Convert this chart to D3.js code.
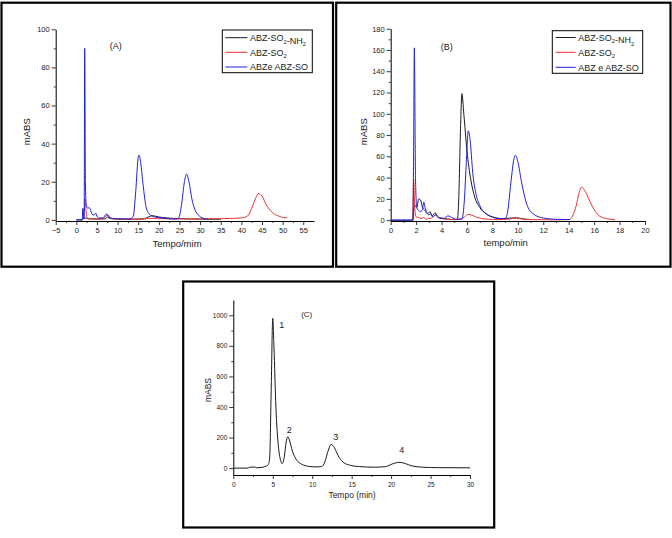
<!DOCTYPE html>
<html><head><meta charset="utf-8">
<script src="https://cdn.jsdelivr.net/npm/d3@7/dist/d3.min.js"></script>
<style>
html,body{margin:0;padding:0;background:#fff;}
svg{display:block;font-family:"Liberation Sans",Arial,sans-serif;}
</style></head>
<body>
<svg id="chart" width="672" height="538"></svg>
<script>
// ---------- DATA ----------
// Panel A (time in min, mABS)
const blackA = [[0,0],[1.4,0],[1.6,0.3],[2,1],[2.5,0.8],[3,0.6],[5,0.4],[7,0.5],[7.5,1.5],[8,0.8],[10,0.4],[14,0.4],[16.5,0.6],[17.5,1.5],[18.3,2.2],[19,2],[20,1.5],[22,1],[25,0.6],[30,0.4],[35,0.3]];
const redA = [[1.4,0],[1.6,0.5],[1.9,4],[2.1,11],[2.3,6],[2.6,1],[3,0.5],[5,0.5],[6.5,0.6],[7.2,2],[7.7,2.5],[8.3,1],[9.5,0.5],[14,0.3],[16,0.3],[17.5,0.8],[20,0.6],[25,0.5],[30,0.5],[35,0.6],[38,0.8],[40,1],[41.5,2],[42.5,6],[43.5,11.5],[44.2,13.8],[45,12.5],[46,8],[47,5],[48,3],[49,2],[50,1.3],[51.1,1]];
const blueA = [[0,0],[1.45,0],[1.55,6],[1.65,6],[1.75,1],[1.9,0.5],[2.03,90],[2.2,20],[2.4,8],[2.8,6],[3.1,6.5],[3.4,5.5],[3.8,3],[4.3,2.5],[4.7,3.5],[5.1,1.5],[5.6,1],[6.5,1],[7.0,2.5],[7.4,3],[7.9,1.5],[8.5,0.8],[10,0.6],[13,0.4],[13.8,2],[14.4,15],[15,33],[15.2,34],[15.6,30],[16.2,18],[16.8,8],[17.5,3.5],[18.5,1.8],[20,1.2],[22,0.7],[24,0.4],[24.8,1],[25.5,8],[26.2,20],[26.7,24],[27.3,20],[28,11],[28.8,5],[29.6,2.5],[30.5,1],[32,0.3]];
const legendA = ["ABZ-SO_2-NH_2","ABZ-SO_2","ABZe ABZ-SO"];
const xTicksA = [-5,0,5,10,15,20,25,30,35,40,45,50,55];
const yTicksA = [0,20,40,60,80,100];

// Panel B
const blackB = [[0,0],[1.75,0],[1.8,8],[1.9,14],[2.05,12],[2.2,20],[2.35,19],[2.5,12],[2.7,9],[2.9,6],[3.1,8],[3.25,4],[3.5,7],[3.7,3],[4,2],[4.5,1],[5.0,0.5],[5.25,1],[5.35,20],[5.5,90],[5.6,119],[5.75,100],[6.0,65],[6.3,38],[6.6,22],[7,12],[7.5,6],[8,3],[8.8,1.5],[9.5,2],[9.9,2.2],[10.5,1],[11,0.5]];
const redB = [[1.7,0],[1.75,10],[1.8,38],[1.9,10],[2.0,3],[2.2,2.5],[2.4,1.5],[2.6,2.5],[2.8,1],[3.0,1.5],[3.2,2],[3.4,4],[3.5,5],[3.7,3],[4.0,1.5],[4.5,0.8],[5.0,0.5],[5.5,1],[5.8,3],[6.1,5.5],[6.4,4.5],[6.8,2.5],[7.5,1],[8.5,0.5],[9.3,1],[9.8,2],[10.3,1.2],[11,0.5],[13,0.3],[14,0.5],[14.3,4],[14.6,14],[14.8,25],[15,31],[15.2,29],[15.5,22],[15.9,12],[16.3,5],[16.8,2],[17.3,0.8],[17.65,0.3]];
const blueB = [[0,0],[1.75,0],[1.8,60],[1.86,162],[1.95,40],[2.05,12],[2.2,9],[2.35,8],[2.5,10],[2.6,17],[2.7,12],[2.85,7],[3.0,5],[3.15,6],[3.3,3],[3.55,5],[3.8,2],[4.2,1.5],[4.5,4],[4.8,2.5],[5.2,0.8],[5.6,1],[5.8,20],[5.95,55],[6.1,84],[6.25,75],[6.45,45],[6.7,25],[7,14],[7.5,6],[8,3],[8.5,1.5],[9,1.5],[9.2,8],[9.45,35],[9.7,58],[9.8,61],[10.0,55],[10.3,35],[10.7,15],[11.2,6],[12,2],[13,0.8],[14.1,0.5]];
const legendB = ["ABZ-SO_2-NH_2","ABZ-SO_2","ABZ e ABZ-SO"];
const xTicksB = [0,2,4,6,8,10,12,14,16,18,20];
const yTicksB = [0,20,40,60,80,100,120,140,160,180];

// Panel C
const curveC = [[0,0],[1.9,0],[2,5],[2.5,7],[2.8,6],[3,2],[3.5,4],[4.0,10],[4.4,20],[4.6,60],[4.8,500],[5.0,980],[5.15,800],[5.4,400],[5.7,150],[6.0,50],[6.2,30],[6.45,70],[6.7,170],[6.9,205],[7.1,185],[7.5,110],[8.0,55],[8.7,25],[9.5,12],[10.5,8],[11.2,10],[11.6,40],[12.0,110],[12.4,155],[12.8,135],[13.3,80],[13.9,40],[14.7,20],[16,10],[18,6],[19.3,10],[20.2,28],[21,38],[21.8,30],[22.6,15],[24,6],[26,3],[30,2]];
const peakLabelsC = ["1","2","3","4"];
const peakPosC = [[6.13,920],[7.1,233],[12.98,181],[21.34,96]];
const xTicksC = [0,5,10,15,20,25,30];
const yTicksC = [0,200,400,600,800,1000];

// ---------- DRAW ----------
const svg = d3.select("#chart");
const COLORS = {black:"#1a1a1a", red:"#f03030", blue:"#2020e0"};

function frame(x,y,w,h){
  svg.append("rect").attr("x",x).attr("y",y).attr("width",w).attr("height",h)
    .attr("fill","none").attr("stroke","#000").attr("stroke-width",2.2);
}

function minorTicks(ticks){
  const out=[];
  for(let i=0;i<ticks.length-1;i++) out.push((ticks[i]+ticks[i+1])/2);
  return out;
}

function axes(g,x,y,xt,yt,fs){
  const xMin = minorTicks(xt), yMin = minorTicks(yt);
  const y0 = y.range()[0], x0 = x.range()[0];
  g.append("g").attr("transform",`translate(0,${y0})`)
    .call(d3.axisBottom(x).tickValues(xt).tickSize(4).tickSizeOuter(0).tickPadding(3).tickFormat(d3.format("d")));
  g.append("g").attr("transform",`translate(0,${y0})`)
    .call(d3.axisBottom(x).tickValues(xMin).tickSize(2).tickFormat("")).select(".domain").remove();
  g.append("g").attr("transform",`translate(${x0},0)`)
    .call(d3.axisLeft(y).tickValues(yt).tickSize(4).tickSizeOuter(0).tickPadding(2).tickFormat(d3.format("d")));
  g.append("g").attr("transform",`translate(${x0},0)`)
    .call(d3.axisLeft(y).tickValues(yMin).tickSize(2).tickFormat("")).select(".domain").remove();
  g.selectAll(".domain").attr("stroke","#000").attr("stroke-width",1);
  g.selectAll(".tick line").attr("stroke","#000").attr("stroke-width",0.8);
  g.selectAll(".tick text").attr("font-size",fs).attr("fill","#222").attr("font-family","Liberation Sans, Arial, sans-serif");
}

function subText(sel, str){
  const parts = str.split(/_(\d)/);
  parts.forEach((p,i)=>{
    if(!p) return;
    if(i%2===1){
      sel.append("tspan").attr("dy",2.5).attr("font-size","0.65em").text(p);
      sel.append("tspan").attr("dy",-2.5).text("");
    } else sel.append("tspan").text(p);
  });
}

function line(x,y){
  return d3.line().x(d=>x(d[0])).y(d=>y(d[1])).curve(d3.curveMonotoneX);
}

function panel(cfg){
  const g = svg.append("g");
  const x = d3.scaleLinear().domain(cfg.xd).range(cfg.xr);
  const y = d3.scaleLinear().domain(cfg.yd).range(cfg.yr);
  axes(g,x,y,cfg.xt,cfg.yt,cfg.tfs);
  const ln = line(x,y);
  cfg.series.forEach(s=>{
    g.append("path").datum(s.data).attr("d",ln).attr("fill","none")
      .attr("stroke",s.color).attr("stroke-width",1).attr("stroke-linejoin","round");
  });
  g.append("text").attr("transform",`translate(${cfg.ylab[0]},${cfg.ylab[1]}) rotate(-90)`)
    .attr("text-anchor","middle").attr("dy","0.35em").attr("font-size",cfg.lfs).attr("fill","#222").text("mABS");
  g.append("text").attr("x",cfg.xlab[0]).attr("y",cfg.xlab[1]).attr("text-anchor","middle")
    .attr("font-size",cfg.lfs).attr("fill","#222").text(cfg.xlabel);
  g.append("text").attr("x",cfg.tag[0]).attr("y",cfg.tag[1]).attr("text-anchor","middle")
    .attr("font-size",cfg.tagfs).attr("fill","#222").text(cfg.tagText);
  if(cfg.legend){
    const L = cfg.legend;
    g.append("rect").attr("x",L.x).attr("y",L.y).attr("width",L.w).attr("height",L.h)
      .attr("fill","#fff").attr("stroke","#000").attr("stroke-width",1);
    L.labels.forEach((lab,i)=>{
      const yy = L.rows[i];
      g.append("line").attr("x1",L.l1).attr("x2",L.l2).attr("y1",yy).attr("y2",yy)
        .attr("stroke",cfg.series[i].color).attr("stroke-width",1);
      const t = g.append("text").attr("x",L.tx).attr("y",yy+3.3).attr("font-size",9).attr("fill","#222");
      subText(t, lab);
    });
  }
  return {g,x,y};
}

// Panel A
frame(1.5,2.7,331.5,264);
panel({
  xd:[-5,57.6], xr:[55.7,314], yd:[-0.6,100], yr:[221,29.3],
  xt:xTicksA, yt:yTicksA, tfs:7.5, lfs:9.5,
  series:[{data:blackA,color:COLORS.black},{data:redA,color:COLORS.red},{data:blueA,color:COLORS.blue}],
  ylab:[27,131.7], xlab:[177,246.5], xlabel:"Tempo/mim",
  tag:[115.8,49], tagText:"(A)", tagfs:9,
  legend:{x:222.3,y:30,w:90,h:42.7,l1:225.3,l2:247.3,tx:250,rows:[37.7,52.3,67],labels:legendA}
});

// Panel B
frame(336.2,2.7,334.3,264);
panel({
  xd:[0,20], xr:[390.7,645], yd:[-0.8,180], yr:[221,28.7],
  xt:xTicksB, yt:yTicksB, tfs:7.5, lfs:9.5,
  series:[{data:blackB,color:COLORS.black},{data:redB,color:COLORS.red},{data:blueB,color:COLORS.blue}],
  ylab:[363.3,131.7], xlab:[505.7,246.2], xlabel:"tempo/min",
  tag:[446.7,50], tagText:"(B)", tagfs:9,
  legend:{x:552.3,y:30.7,w:90.4,h:42.6,l1:555.7,l2:575.7,tx:578.3,rows:[37.5,52.3,67.3],labels:legendB}
});

// Panel C
frame(183.2,281.5,311,246);
const pc = panel({
  xd:[0,30], xr:[233.3,470], yd:[-45,1100], yr:[475,300],
  xt:xTicksC, yt:yTicksC, tfs:6.5, lfs:8.5,
  series:[{data:curveC,color:COLORS.black}],
  ylab:[208.3,390], xlab:[352,498], xlabel:"Tempo (min)",
  tag:[306.7,317], tagText:"(C)", tagfs:8
});
pc.g.selectAll(".peaklab").data(peakLabelsC).enter().append("text")
  .attr("class","peaklab")
  .attr("x",(d,i)=>pc.x(peakPosC[i][0]))
  .attr("y",(d,i)=>pc.y(peakPosC[i][1]))
  .attr("text-anchor","middle").attr("font-size",9).attr("fill","#222").text(d=>d);
</script>
</body></html>
